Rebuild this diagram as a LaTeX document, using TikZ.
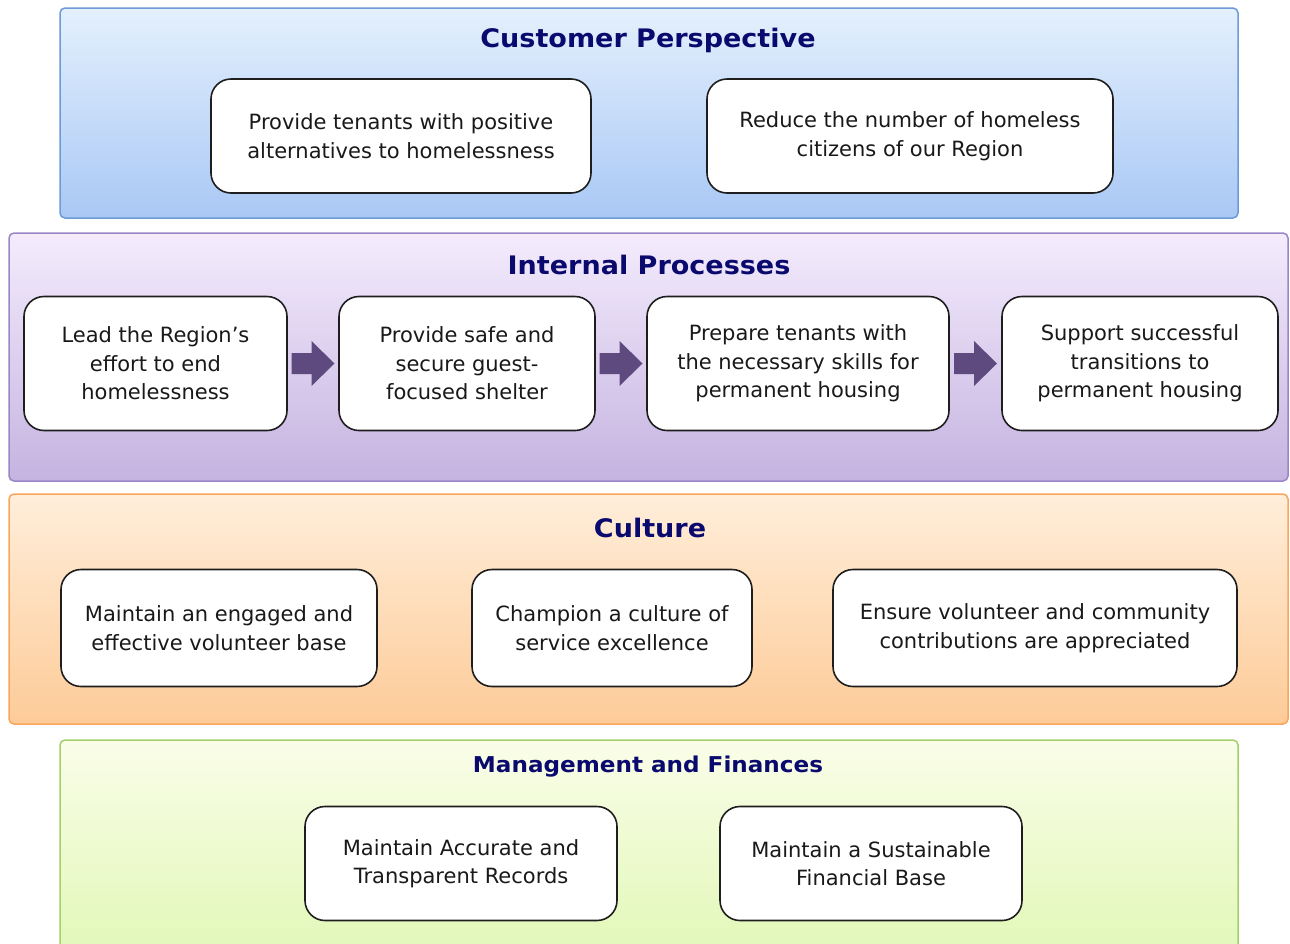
\documentclass[tikz,border=0pt]{standalone}
\usepackage{fontspec}
\setmainfont{DejaVu Sans}
\newfontfamily\titlefont[FakeStretch=1.06]{DejaVu Sans}
\usetikzlibrary{calc}
\definecolor{titlec}{RGB}{10,10,110}
\definecolor{blueT}{RGB}{228,240,253}
\definecolor{blueB}{RGB}{169,200,245}
\definecolor{blueD}{RGB}{108,155,214}
\definecolor{purT}{RGB}{244,236,253}
\definecolor{purB}{RGB}{197,179,224}
\definecolor{purD}{RGB}{154,133,198}
\definecolor{orT}{RGB}{255,238,218}
\definecolor{orB}{RGB}{253,203,152}
\definecolor{orD}{RGB}{249,166,90}
\definecolor{grT}{RGB}{250,253,232}
\definecolor{grB}{RGB}{221,247,176}
\definecolor{grD}{RGB}{165,207,107}
\definecolor{arrowc}{RGB}{94,74,126}
\definecolor{boxline}{RGB}{30,30,30}
\tikzset{
  panel/.style={rounded corners=5pt, line width=1.5pt},
  title/.style={font=\titlefont\bfseries\fontsize{25.5}{30}\selectfont, text=titlec, inner sep=0pt},
  smalltitle/.style={title, font=\titlefont\bfseries\fontsize{21.8}{26}\selectfont},
  goal/.style={draw=boxline, line width=1.6pt, fill=white, rounded corners=20pt, align=center,
     font=\fontsize{21}{28.5}\selectfont, inner sep=0pt, outer sep=0pt, text=black!90},
  flow/.style={fill=arrowc, draw=none}
}
\begin{document}
\begin{tikzpicture}[x=1pt,y=-1pt]
\clip (0,0) rectangle (1290,943);
\fill[white] (0,0) rectangle (1290,943);
% Customer Perspective
\draw[panel, draw=blueD, top color=blueT, bottom color=blueB] (60,8) rectangle (1238,218);
\node[title] (t1) at (648,40) {Customer Perspective};
\node[goal, minimum width=380pt, minimum height=114pt] (c1) at (401,136) {Provide tenants with positive\\alternatives to homelessness};
\node[goal, minimum width=406pt, minimum height=114pt] (c2) at (910,136) {Reduce the number of homeless\\citizens of our Region};
% Internal Processes
\draw[panel, draw=purD, top color=purT, bottom color=purB] (9,233) rectangle (1288,481);
\node[title] (t2) at (649,265) {Internal Processes};
\node[goal, minimum width=263pt, minimum height=134pt] (p1) at (155.5,363.5) {Lead the Region’s\\effort to end\\homelessness};
\node[goal, minimum width=256pt, minimum height=134pt] (p2) at (467,363.5) {Provide safe and\\secure guest-\\focused shelter};
\node[goal, minimum width=302pt, minimum height=134pt] (p3) at (798,363.5) {Prepare tenants with\\the necessary skills for\\permanent housing};
\node[goal, minimum width=276pt, minimum height=134pt] (p4) at (1140,363.5) {Support successful\\transitions to\\permanent housing};
\foreach \a/\b in {p1/p2,p2/p3,p3/p4}{
  \fill[flow] ($(\a.east)!0.5!(\b.west)$) ++(-21.5,-10.5) -- ++(20,0) -- ++(0,-12) -- ++(23,22.5) -- ++(-23,22.5) -- ++(0,-12) -- ++(-20,0) -- cycle;
}
% Culture
\draw[panel, draw=orD, top color=orT, bottom color=orB] (9,494) rectangle (1288,724);
\node[title] (t3) at (650,528) {Culture};
\node[goal, minimum width=316pt, minimum height=117pt] (k1) at (219,628) {Maintain an engaged and\\effective volunteer base};
\node[goal, minimum width=280pt, minimum height=117pt] (k2) at (612,628) {Champion a culture of\\service excellence};
\node[goal, minimum width=404pt, minimum height=117pt] (k3) at (1035,628) {Ensure volunteer and community\\contributions are appreciated};
% Management and Finances
\draw[panel, draw=grD, top color=grT, bottom color=grB] (60,740) rectangle (1238,990);
\node[smalltitle] (t4) at (648,767) {Management and Finances};
\node[goal, minimum width=312pt, minimum height=114pt] (m1) at (461,863.5) {Maintain Accurate and\\Transparent Records};
\node[goal, minimum width=302pt, minimum height=114pt] (m2) at (871,863.5) {Maintain a Sustainable\\Financial Base};
\end{tikzpicture}
\end{document}
